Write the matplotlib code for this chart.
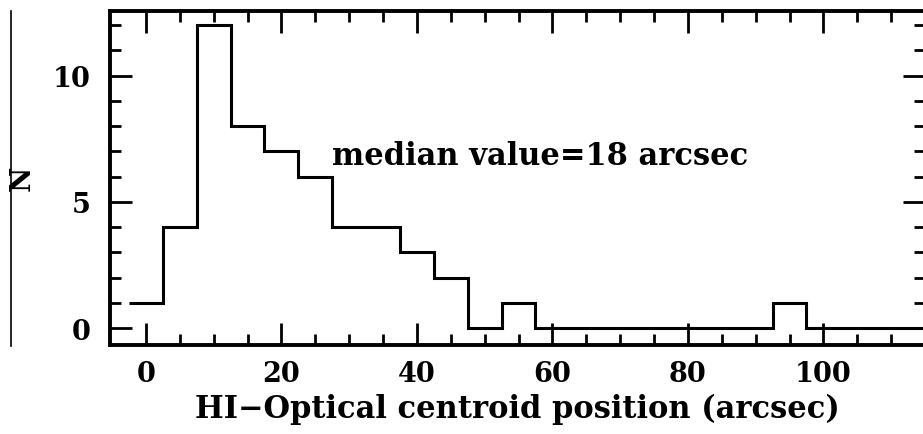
import matplotlib
matplotlib.use("Agg")
import matplotlib.pyplot as plt
from matplotlib.lines import Line2D
import numpy as np

# Data: histogram of HI-optical centroid offsets (bin width 5 arcsec)
bin_centers = [0, 5, 10, 15, 20, 25, 30, 35, 40, 45, 50, 55, 60, 65, 70, 75,
               80, 85, 90, 95, 100, 105, 110, 115]
counts = [1, 4, 12, 8, 7, 6, 4, 4, 3, 2, 0, 1, 0, 0, 0, 0,
          0, 0, 0, 1, 0, 0, 0, 0]
bin_width = 5
x_label = "HI\u2212Optical centroid position (arcsec)"
y_label = "N"
note = "median value=18 arcsec"

FONT = "DejaVu Serif"
fig = plt.figure(figsize=(9.23, 4.35), dpi=100)
ax = fig.add_axes([110/923, 1-346/435, (925-110)/923, (346-12)/435])

edges = np.array(bin_centers, dtype=float) - bin_width/2
edges = np.append(edges, edges[-1] + bin_width)
ax.stairs(counts, edges, baseline=None, color="black", lw=2.2)

ax.set_xlim(-5.3, 114.7)
ax.set_ylim(-0.67, 12.56)

ax.set_xticks(np.arange(0, 101, 20))
ax.set_xticks(np.arange(0, 116, 5), minor=True)
ax.set_yticks([0, 5, 10])
ax.set_yticks(np.arange(0, 13, 1), minor=True)

ax.tick_params(which="both", direction="in", top=True, right=True,
               width=2, colors="black")
ax.tick_params(which="major", length=16)
ax.tick_params(which="minor", length=8)
ax.tick_params(axis="x", which="major", pad=11)
ax.tick_params(axis="y", which="major", pad=14)
for lab in ax.get_xticklabels() + ax.get_yticklabels():
    lab.set_fontfamily(FONT)
    lab.set_fontweight("bold")
    lab.set_fontsize(19.5)
for sp in ax.spines.values():
    sp.set_linewidth(2.8)

ax.set_xlabel(x_label, fontfamily=FONT, fontweight="bold", fontsize=22, labelpad=4)
ax.text(27.5, 6.5, note, fontfamily=FONT, fontweight="bold", fontsize=22,
        ha="left", va="baseline")
fig.text(22/923, 1-178/435, y_label, rotation=90, fontfamily=FONT,
         fontweight="bold", fontsize=20, ha="center", va="center")

fig.add_artist(Line2D([11/923, 11/923], [1-347/435, 1-12/435],
                      color="black", lw=1.2))

fig.savefig("out.png", dpi=100)
